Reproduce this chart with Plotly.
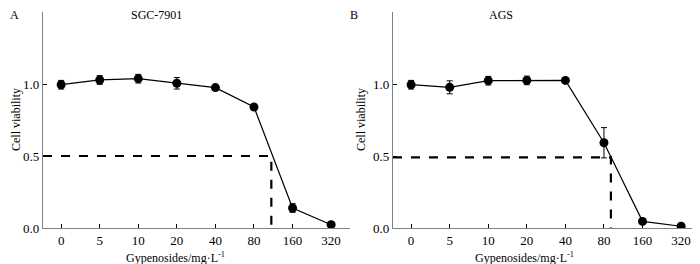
import plotly.graph_objects as go

categories = ["0", "5", "10", "20", "40", "80", "160", "320"]
sgc_values = [0.995, 1.028, 1.037, 1.005, 0.975, 0.84, 0.139, 0.023]
sgc_errors = [0.03, 0.03, 0.03, 0.04, 0.012, 0.012, 0.03, 0.02]
ags_values = [0.995, 0.977, 1.023, 1.025, 1.025, 0.592, 0.046, 0.012]
ags_errors = [0.03, 0.045, 0.03, 0.03, 0.012, 0.105, 0.015, 0.02]
sgc_ic50_pos = 5.45
ags_ic50_pos = 5.18
sgc_ic50_y = 0.5
ags_ic50_y = 0.49

idx = list(range(len(categories)))
font_fam = "Liberation Serif, Times New Roman, serif"
axis_color = "#808080"

W, H = 692, 256
L, T, B = 35, 4, 36
PW, PH = W - L, H - T - B

fig = go.Figure()

for xa, ya, vals, errs, ic_x, ic_y in [
    ("x", "y", sgc_values, sgc_errors, sgc_ic50_pos, sgc_ic50_y),
    ("x2", "y2", ags_values, ags_errors, ags_ic50_pos, ags_ic50_y),
]:
    fig.add_trace(go.Scatter(
        x=[-0.47, ic_x, ic_x], y=[ic_y, ic_y, 0], mode="lines",
        line=dict(color="black", width=2.2, dash="dash"),
        xaxis=xa, yaxis=ya, showlegend=False, hoverinfo="skip"))
    fig.add_trace(go.Scatter(
        x=idx, y=vals, mode="lines+markers",
        line=dict(color="black", width=1.2),
        marker=dict(color="black", size=9),
        error_y=dict(type="data", array=errs, color="black", thickness=1, width=3),
        xaxis=xa, yaxis=ya, showlegend=False))

xcommon = dict(range=[-0.47, 7.49], tickmode="array", tickvals=idx, ticktext=categories,
               showline=True, linecolor=axis_color, linewidth=1.2,
               ticks="inside", ticklen=4, tickcolor="black", tickwidth=1,
               showgrid=False, zeroline=False,
               tickfont=dict(family=font_fam, size=13, color="black"))
ycommon = dict(range=[0, 1.5], tickvals=[0, 0.5, 1.0, 1.5], ticktext=["0.0", "0.5", "1.0", "1.5"],
               showline=True, linecolor=axis_color, linewidth=1.2,
               ticks="inside", ticklen=4, tickcolor="black", tickwidth=1,
               showgrid=False, zeroline=False,
               tickfont=dict(family=font_fam, size=13, color="black"))

fig.update_layout(
    width=W, height=H,
    margin=dict(l=L, r=0, t=T, b=B),
    paper_bgcolor="white", plot_bgcolor="white",
    xaxis=dict(domain=[0, 0.4673], anchor="y", **xcommon),
    yaxis=dict(domain=[0, 1], anchor="x", **ycommon),
    xaxis2=dict(domain=[0.5327, 1], anchor="y2", **xcommon),
    yaxis2=dict(domain=[0, 1], anchor="x2", **ycommon),
)

tf = dict(family=font_fam, size=12, color="black")
# positions in figure pixels (from top-left of the figure)
ann = [
    dict(text="A", x=0, y=-2, xanchor="left", yanchor="top"),
    dict(text="SGC-7901", x=148, y=-2, xanchor="center", yanchor="top"),
    dict(text="B", x=346, y=-2, xanchor="center", yanchor="top"),
    dict(text="AGS", x=493, y=-2, xanchor="center", yanchor="top"),
    dict(text="Gypenosides/mg·L<sup>-1</sup>", x=167, y=249, xanchor="center", yanchor="middle"),
    dict(text="Gypenosides/mg·L<sup>-1</sup>", x=516, y=249, xanchor="center", yanchor="middle"),
    dict(text="Cell viability", x=-1, y=112, xanchor="left", yanchor="middle", textangle=-90),
    dict(text="Cell viability", x=344, y=112, xanchor="left", yanchor="middle", textangle=-90),
]
for a in ann:
    px = a.pop("x")
    py = a.pop("y")
    fx = (px - L) / PW
    fy = (T + PH - py) / PH
    fig.add_annotation(xref="paper", yref="paper", x=fx, y=fy, showarrow=False,
                       font=tf, **a)

fig.write_html("out.html")
